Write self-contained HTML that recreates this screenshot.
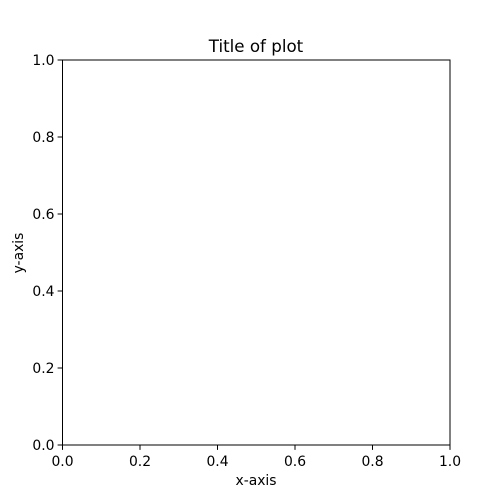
<!DOCTYPE html>
<html><head><meta charset="utf-8"><style>
html,body{margin:0;padding:0;background:#fff;overflow:hidden;width:500px;height:500px;}
svg{display:block;}
svg text{font-family:"DejaVu Sans","Liberation Sans",sans-serif;fill:#000;}
</style></head><body>
<svg id="chart" width="500" height="500" xmlns="http://www.w3.org/2000/svg">
<rect x="0" y="0" width="500" height="500" fill="#fff"/>
<text x="256" y="52" font-size="16.7" text-anchor="middle">Title of plot</text>
<text x="256" y="485" font-size="13.9" text-anchor="middle">x-axis</text>
<text x="23" y="253" font-size="13.9" text-anchor="middle" transform="rotate(-90 23 253)">y-axis</text>
<g id="ticks"></g>
<rect x="62.5" y="60" width="387.5" height="385" fill="none" stroke="#000" stroke-width="1"/>
</svg>
<script>
const xTicks=[0,0.2,0.4,0.6,0.8,1.0];
const yTicks=[0,0.2,0.4,0.6,0.8,1.0];
const xTickLabels=["0.0","0.2","0.4","0.6","0.8","1.0"];
const yTickLabels=["0.0","0.2","0.4","0.6","0.8","1.0"];
const L=62.5,R=450,T=60,B=445;
const sx=v=>L+(R-L)*v, sy=v=>B-(B-T)*v;
const g=document.getElementById('ticks');
const NS="http://www.w3.org/2000/svg";
xTicks.forEach((v,i)=>{
  const l=document.createElementNS(NS,'line');
  l.setAttribute('x1',sx(v));l.setAttribute('x2',sx(v));l.setAttribute('y1',B);l.setAttribute('y2',B+4.9);
  l.setAttribute('stroke','#000');
  
  
  g.appendChild(l);
  const t=document.createElementNS(NS,'text');
  t.setAttribute('x',sx(v));t.setAttribute('y',466);t.setAttribute('font-size','13.9');t.setAttribute('text-anchor','middle');
  t.textContent=xTickLabels[i];
  
  
  g.appendChild(t);
});
yTicks.forEach((v,i)=>{
  const l=document.createElementNS(NS,'line');
  l.setAttribute('x1',L-4.9);l.setAttribute('x2',L);l.setAttribute('y1',sy(v));l.setAttribute('y2',sy(v));
  l.setAttribute('stroke','#000');
  
  
  g.appendChild(l);
  const t=document.createElementNS(NS,'text');
  t.setAttribute('x',L-8);t.setAttribute('y',sy(v)+5);t.setAttribute('font-size','13.9');t.setAttribute('text-anchor','end');
  t.textContent=yTickLabels[i];
  
  
  g.appendChild(t);
});
</script>
</body></html>
